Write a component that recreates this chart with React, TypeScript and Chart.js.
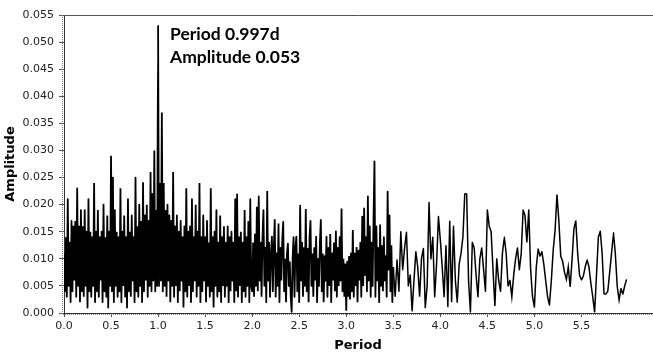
import React, { useEffect, useRef } from 'react';
import { Chart, registerables } from 'chart.js';

Chart.register(...registerables);

const TITLE_X = 'Period';
const TITLE_Y = 'Amplitude';
const NOTE_LINES = ['Period 0.997d', 'Amplitude 0.053'];
const X_TICK_STEP = 0.5;
const Y_TICK_STEP = 0.005;
const X_MAX = 6.25;
const Y_MAX = 0.055;

// Period 0.00 .. 1.99, sampled every 0.01
const segAStart = 0.0;
const segAStep = 0.01;
const segAAmp = [
  0.011, 0.004, 0.014, 0.003, 0.021, 0.005, 0.013, 0.002, 0.017, 0.004,
  0.016, 0.006, 0.017, 0.003, 0.023, 0.005, 0.016, 0.002, 0.019, 0.004,
  0.016, 0.003, 0.019, 0.005, 0.015, 0.001, 0.021, 0.004, 0.015, 0.003,
  0.014, 0.005, 0.024, 0.002, 0.015, 0.004, 0.019, 0.003, 0.014, 0.006,
  0.015, 0.002, 0.020, 0.004, 0.014, 0.003, 0.018, 0.001, 0.015, 0.005,
  0.029, 0.004, 0.025, 0.002, 0.019, 0.005, 0.015, 0.003, 0.014, 0.004,
  0.023, 0.002, 0.015, 0.005, 0.018, 0.003, 0.014, 0.001, 0.021, 0.004,
  0.015, 0.003, 0.018, 0.006, 0.014, 0.002, 0.025, 0.004, 0.016, 0.003,
  0.020, 0.005, 0.017, 0.002, 0.024, 0.004, 0.018, 0.006, 0.020, 0.003,
  0.017, 0.005, 0.026, 0.004, 0.022, 0.006, 0.030, 0.004, 0.019, 0.005,
  0.053, 0.005, 0.024, 0.006, 0.037, 0.004, 0.024, 0.005, 0.019, 0.003,
  0.020, 0.006, 0.018, 0.002, 0.017, 0.005, 0.026, 0.003, 0.016, 0.005,
  0.018, 0.002, 0.015, 0.004, 0.017, 0.006, 0.014, 0.001, 0.016, 0.004,
  0.023, 0.003, 0.015, 0.005, 0.016, 0.002, 0.021, 0.004, 0.014, 0.006,
  0.020, 0.003, 0.015, 0.005, 0.024, 0.002, 0.014, 0.004, 0.018, 0.006,
  0.014, 0.002, 0.017, 0.005, 0.013, 0.003, 0.023, 0.004, 0.014, 0.001,
  0.015, 0.005, 0.019, 0.003, 0.013, 0.004, 0.018, 0.002, 0.014, 0.005,
  0.016, 0.003, 0.013, 0.005, 0.016, 0.002, 0.014, 0.004, 0.015, 0.006,
  0.013, 0.002, 0.021, 0.004, 0.022, 0.003, 0.014, 0.005, 0.015, 0.002,
  0.013, 0.004, 0.019, 0.003, 0.014, 0.005, 0.017, 0.002, 0.021, 0.005,
];

// Period 2.00 .. 2.99, sampled every 0.01
const segBStart = 2.0;
const segBStep = 0.01;
const segBAmp = [
  0.004, 0.013, 0.003, 0.0145, 0.005, 0.0196, 0.004, 0.0215, 0.006, 0.013,
  0.003, 0.014, 0.019, 0.005, 0.012, 0.002, 0.0224, 0.006, 0.013, 0.003,
  0.011, 0.0141, 0.004, 0.012, 0.0172, 0.003, 0.011, 0.005, 0.0165, 0.002,
  0.012, 0.006, 0.0135, 0.0168, 0.004, 0.010, 0.002, 0.011, 0.0128, 0.005,
  0.0095, 0.003, 0.0002, 0.010, 0.014, 0.003, 0.012, 0.0141, 0.004, 0.011,
  0.002, 0.0198, 0.006, 0.013, 0.003, 0.012, 0.005, 0.0192, 0.004, 0.012,
  0.002, 0.014, 0.017, 0.005, 0.011, 0.003, 0.012, 0.006, 0.0141, 0.002,
  0.010, 0.005, 0.013, 0.0172, 0.004, 0.011, 0.002, 0.0105, 0.006, 0.0141,
  0.003, 0.012, 0.005, 0.0146, 0.002, 0.011, 0.006, 0.013, 0.004, 0.0152,
  0.003, 0.012, 0.005, 0.014, 0.006, 0.0193, 0.004, 0.010, 0.003, 0.009,
];

// Period 3.00 .. 3.49, sampled every 0.01
const segCStart = 3.0;
const segCStep = 0.01;
const segCAmp = [
  0.0004, 0.0095, 0.003, 0.0105, 0.0025, 0.011, 0.004, 0.0153, 0.003, 0.011,
  0.005, 0.0122, 0.002, 0.0115, 0.006, 0.013, 0.003, 0.0178, 0.005, 0.0193,
  0.007, 0.014, 0.004, 0.0215, 0.006, 0.016, 0.003, 0.013, 0.005, 0.017,
  0.028, 0.003, 0.016, 0.006, 0.012, 0.002, 0.0162, 0.005, 0.0125, 0.004,
  0.014, 0.006, 0.0105, 0.003, 0.0224, 0.008, 0.018, 0.004, 0.0125, 0.002,
];

// Period 3.50 .. 3.98, sampled every 0.02
const segDStart = 3.5;
const segDStep = 0.02;
const segDAmp = [
  0.0085, 0.003, 0.0098, 0.004, 0.015, 0.008, 0.012, 0.0149, 0.005, 0.007,
  0.0004, 0.006, 0.0113, 0.0085, 0.003, 0.0101, 0.0119, 0.001, 0.005, 0.0204,
  0.010, 0.014, 0.003, 0.009, 0.0178,
];

// Period 4.00 .. 5.98, sampled every 0.02
const segEStart = 4.0;
const segEStep = 0.02;
const segEAmp = [
  0.0135, 0.0085, 0.003, 0.0125, 0.0012, 0.017, 0.002, 0.016, 0.006, 0.002,
  0.009, 0.011, 0.014, 0.022, 0.022, 0.006, 0.0002, 0.013, 0.012, 0.007,
  0.003, 0.010, 0.012, 0.008, 0.004, 0.019, 0.016, 0.015, 0.008, 0.0013,
  0.010, 0.006, 0.004, 0.011, 0.014, 0.011, 0.005, 0.006, 0.003, 0.007,
  0.010, 0.012, 0.008, 0.011, 0.019, 0.018, 0.013, 0.019, 0.008, 0.003,
  0.0011, 0.0085, 0.0118, 0.0105, 0.0113, 0.009, 0.006, 0.003, 0.0015, 0.006,
  0.0116, 0.0153, 0.0218, 0.017, 0.0105, 0.0095, 0.0075, 0.0062, 0.0085, 0.0048,
  0.0098, 0.0155, 0.017, 0.011, 0.007, 0.0061, 0.0068, 0.0085, 0.0098, 0.0085,
  0.0055, 0.003, 0.0002, 0.007, 0.014, 0.0151, 0.011, 0.0035, 0.0035, 0.004,
  0.0075, 0.011, 0.0148, 0.011, 0.005, 0.0024, 0.0045, 0.0035, 0.005, 0.0062,
];

function toPoints(start: number, step: number, amps: number[]) {
  return amps.map((y, i) => ({ x: Math.round((start + i * step) * 1000) / 1000, y }));
}

export default function App() {
  const ref = useRef<HTMLCanvasElement>(null);

  useEffect(() => {
    document.body.style.margin = '0';
    const canvas = ref.current;
    if (!canvas) return;

    const points = [
      ...toPoints(segAStart, segAStep, segAAmp),
      ...toPoints(segBStart, segBStep, segBAmp),
      ...toPoints(segCStart, segCStep, segCAmp),
      ...toPoints(segDStart, segDStep, segDAmp),
      ...toPoints(segEStart, segEStep, segEAmp),
    ];

    const framePlugin = {
      id: 'frameAndNote',
      afterDraw(chart: any) {
        const { ctx, chartArea: a } = chart;
        ctx.save();
        ctx.strokeStyle = '#555';
        ctx.lineWidth = 1;
        ctx.beginPath();
        ctx.moveTo(a.left, Math.round(a.top) + 0.5);
        ctx.lineTo(a.right + 1, Math.round(a.top) + 0.5);
        ctx.stroke();
        ctx.setLineDash([1, 1]);
        ctx.strokeStyle = '#888';
        ctx.beginPath();
        ctx.moveTo(Math.round(a.left) - 1.5, a.top);
        ctx.lineTo(Math.round(a.left) - 1.5, Math.round(a.bottom) + 1.5);
        ctx.lineTo(a.right + 1, Math.round(a.bottom) + 1.5);
        ctx.stroke();
        ctx.setLineDash([]);
        ctx.fillStyle = '#000';
        ctx.font = 'bold 17.5px Lato';
        ctx.textBaseline = 'alphabetic';
        ctx.textAlign = 'left';
        ctx.fillText(NOTE_LINES[0], 170, 40);
        ctx.fillText(NOTE_LINES[1], 170, 63);
        ctx.restore();
      },
    };

    const chart = new Chart(canvas, {
      type: 'line',
      data: {
        datasets: [
          {
            data: points,
            borderColor: '#000',
            borderWidth: 1.5,
            pointRadius: 0,
            tension: 0.01,
            fill: false,
            segment: {
              borderWidth: (c: any) => (c.p0.parsed.x < 3.5 ? 1.8 : 1.5),
            },
          },
        ],
      },
      options: {
        animation: false,
        responsive: false,
        devicePixelRatio: 1,
        layout: { padding: { top: 15, right: 1, left: 0, bottom: 0 } },
        plugins: { legend: { display: false }, tooltip: { enabled: false } },
        scales: {
          x: {
            type: 'linear',
            min: 0,
            max: X_MAX,
            afterBuildTicks: (s: any) => {
              s.ticks = s.ticks.filter(
                (t: any) => Math.abs(t.value / X_TICK_STEP - Math.round(t.value / X_TICK_STEP)) < 1e-6
              );
            },
            afterFit: (s: any) => {
              s.height = 39;
            },
            ticks: {
              stepSize: X_TICK_STEP,
              autoSkip: false,
              maxRotation: 0,
              color: '#222',
              padding: 3,
              font: { family: 'DejaVu Sans', size: 11 },
              callback: (v: any) => Number(v).toFixed(1),
            },
            grid: { display: true, drawOnChartArea: false, drawTicks: true, tickLength: 4, color: '#555' },
            border: { display: true, color: '#333', width: 1 },
            title: {
              display: true,
              text: TITLE_X,
              color: '#000',
              font: { family: 'DejaVu Sans', size: 13, weight: 'bold', lineHeight: 1 },
              padding: { top: 0, bottom: 0 },
            },
          },
          y: {
            type: 'linear',
            min: 0,
            max: Y_MAX,
            afterFit: (s: any) => {
              s.width = 64;
            },
            ticks: {
              stepSize: Y_TICK_STEP,
              color: '#222',
              padding: 5,
              font: { family: 'DejaVu Sans', size: 11 },
              callback: (v: any) => Number(v).toFixed(3),
            },
            grid: { display: true, drawOnChartArea: false, drawTicks: true, tickLength: 5, color: '#555' },
            border: { display: true, color: '#333', width: 1 },
            title: {
              display: true,
              text: TITLE_Y,
              color: '#000',
              font: { family: 'DejaVu Sans', size: 13, weight: 'bold', lineHeight: 1 },
              padding: { top: 4.5, bottom: 0 },
            },
          },
        },
      },
      plugins: [framePlugin],
    } as any);

    return () => chart.destroy();
  }, []);

  return (
    <div style={{ position: 'fixed', left: 0, top: 0, width: 653, height: 352, background: '#fff' }}>
      <canvas ref={ref} width={653} height={352} style={{ display: 'block', width: 653, height: 352 }} />
    </div>
  );
}
